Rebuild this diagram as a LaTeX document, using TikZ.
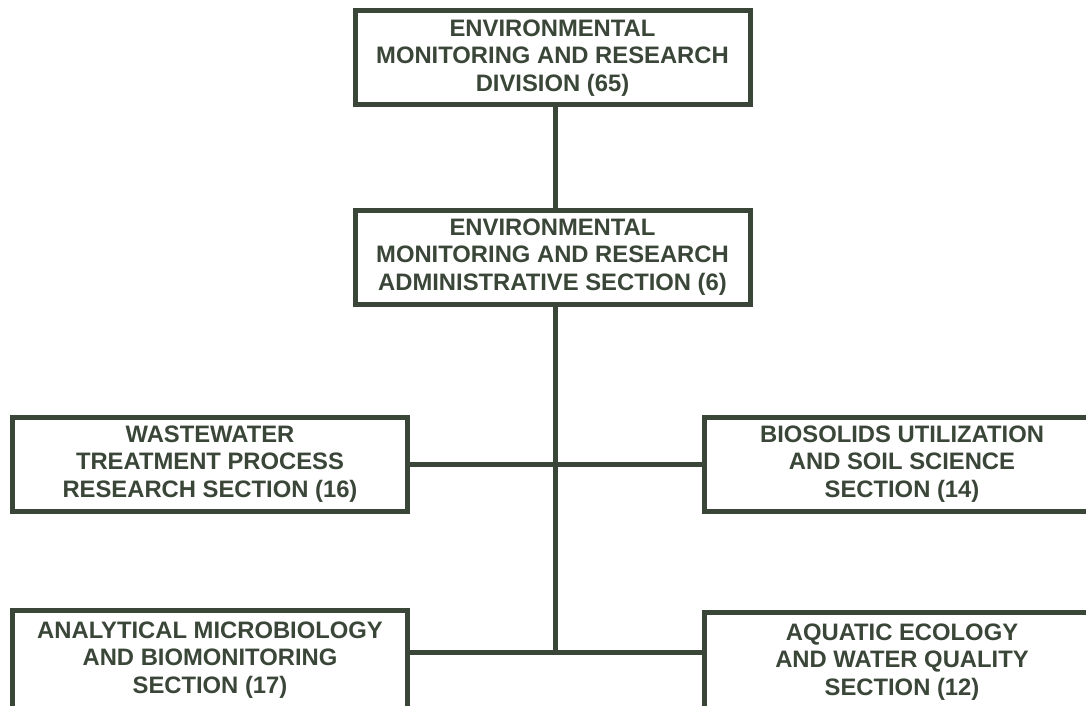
\documentclass[tikz,border=0pt]{standalone}
\usepackage{fontspec}
\setmainfont{Liberation Sans}
\definecolor{ink}{RGB}{58,70,56}
\begin{document}
\begin{tikzpicture}[x=1pt,y=-1pt,
  box/.style={draw=ink, line width=5pt, fill=white, text=ink, align=center,
    font=\fontsize{23.8}{27.5}\selectfont\bfseries,
    minimum width=395pt, minimum height=94pt, inner sep=0pt},
  tall/.style={minimum height=99pt},
  conn/.style={draw=ink, line width=5pt}]
\clip (0,0) rectangle (1086,706);
\useasboundingbox (0,0) rectangle (1086,706);
\fill[white] (0,0) rectangle (1086,706);
\node[box] (div) at (552.5,58) {ENVIRONMENTAL\\MONITORING AND RESEARCH\\DIVISION (65)};
\node[box] (adm) at (552.5,257) {ENVIRONMENTAL\\MONITORING AND RESEARCH\\ADMINISTRATIVE SECTION (6)};
\node[box] (wtp) at (210,464) {WASTEWATER\\TREATMENT PROCESS\\RESEARCH SECTION (16)};
\node[box] (bio) at (902,464) {BIOSOLIDS UTILIZATION\\AND SOIL SCIENCE\\SECTION (14)};
\node[box,tall] (amb) at (210,660) {ANALYTICAL MICROBIOLOGY\\AND BIOMONITORING\\SECTION (17)};
\node[box,tall] (aeq) at (902,662) {AQUATIC ECOLOGY\\AND WATER QUALITY\\SECTION (12)};
\coordinate (j1) at (555,464);
\coordinate (j2) at (555,652);
\draw[conn] (div.south -| j1) -- (adm.north -| j1);
\draw[conn] (adm.south -| j1) -- (j2);
\draw[conn] (wtp.east) -- (bio.west);
\draw[conn] (amb.east |- j2) -- (aeq.west |- j2);
\end{tikzpicture}
\end{document}
